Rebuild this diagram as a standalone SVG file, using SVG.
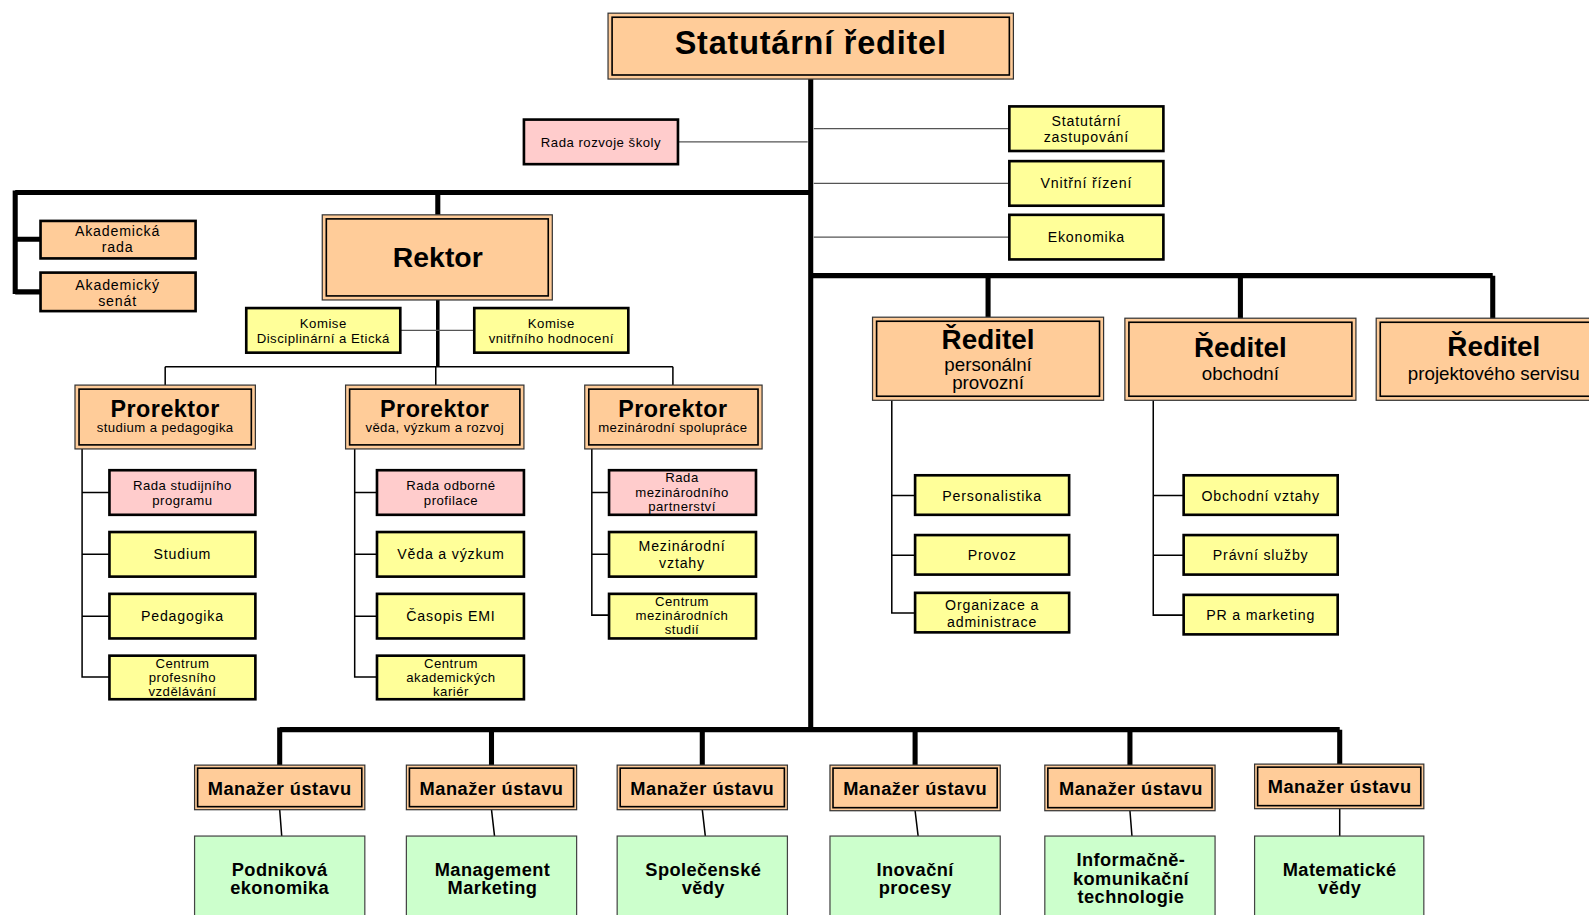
<svg xmlns="http://www.w3.org/2000/svg" width="1589" height="915" viewBox="0 0 1589 915">
<style>
text{font-family:"Liberation Sans",Arial,sans-serif;text-anchor:middle;fill:#000}
.o{fill:#FFCC99;stroke:#333;stroke-width:1.2}
.in{fill:none;stroke:#000;stroke-width:1.6}
.y{fill:#FFFF99;stroke:#000;stroke-width:2.6}
.p{fill:#FFCCCC;stroke:#000;stroke-width:2.6}
.a{fill:#FFCC99;stroke:#000;stroke-width:2.6}
.g{fill:#CCFFCC;stroke:#444;stroke-width:1.2}
.s{font-size:13px;letter-spacing:0.5px}
.m{font-size:14px;letter-spacing:0.8px}
.pr{font-size:23px;font-weight:bold;letter-spacing:0.5px}
.ps{font-size:13px;letter-spacing:0.4px}
.rd{font-size:27.5px;font-weight:bold}
.rs{font-size:18.5px}
.mg{font-size:18px;font-weight:bold;letter-spacing:0.5px}
.gt{font-size:18px;font-weight:bold;letter-spacing:0.4px}
.T{stroke:#000;stroke-width:5;fill:none}
.t{stroke:#000;stroke-width:1.5;fill:none}
.tg{stroke:#555;stroke-width:1.3;fill:none}
</style>
<rect width="1589" height="915" fill="#fff"/>
<g transform="scale(1.0134)">
<g id="connectors">
<path class="T" d="M800 76V722"/>
<path class="T" d="M15 190H800M15 188V290M15 236H40M15 288H40"/>
<path class="T" d="M432 190V212"/>
<path class="T" d="M800 272H1473M975 272V313M1224 272V315M1473 272V315"/>
<path class="T" d="M276 720H1322M276 718V755M485 720V755M693 720V755M903 720V755M1115 720V755M1322 720V754"/>
<path class="tg" d="M669 140H797M803 127H996M803 181H996M803 234H996"/>
<path stroke="#000" stroke-width="3.5" fill="none" d="M432 296V362"/>
<path class="tg" d="M395 326H468"/>
<path class="t" stroke-width="2" d="M163 362H664M163 362V380M430 362V380M664 362V380"/>
<path class="t" d="M81 443V668H108M81 486H108M81 547H108M81 608H108"/>
<path class="t" d="M350 443V668H372M350 486H372M350 547H372M350 608H372"/>
<path class="t" d="M584 443V607H601M584 486H601M584 547H601"/>
<path class="t" d="M880 395V605H903M880 489H903M880 548H903"/>
<path class="t" d="M1138 395V607H1168M1138 489H1168M1138 548H1168"/>
<path class="t" stroke-width="1.2" d="M276 799L278 825M485 799L488 825M693 799L696 825M903 800L906 825M1115 800L1117 825M1322 798V825"/>
</g>
<g id="statutarni-reditel"><rect class="o" x="600" y="13" width="400" height="65"/><rect class="in" x="604" y="17" width="392" height="57"/><text x="800" y="53" font-size="32" font-weight="bold" letter-spacing="0.8">Statutární ředitel</text></g>
<g id="rada-rozvoje"><rect class="p" x="517" y="118" width="152" height="44"/><text class="s" x="593" y="145">Rada rozvoje školy</text></g>
<g id="statutarni-zastupovani"><rect class="y" x="996" y="105" width="152" height="44"/><text class="m" x="1072" y="124">Statutární</text><text class="m" x="1072" y="140">zastupování</text></g>
<g id="vnitrni-rizeni"><rect class="y" x="996" y="159" width="152" height="44"/><text class="m" x="1072" y="186">Vnitřní řízení</text></g>
<g id="ekonomika"><rect class="y" x="996" y="212" width="152" height="44"/><text class="m" x="1072" y="239">Ekonomika</text></g>
<g id="akademicka-rada"><rect class="a" x="40" y="218" width="153" height="37"/><text class="m" x="116" y="233">Akademická</text><text class="m" x="116" y="249">rada</text></g>
<g id="akademicky-senat"><rect class="a" x="40" y="269" width="153" height="38"/><text class="m" x="116" y="286">Akademický</text><text class="m" x="116" y="302">senát</text></g>
<g id="rektor"><rect class="o" x="318" y="212" width="227" height="84"/><rect class="in" x="322" y="216" width="219" height="76"/><text x="432" y="263" font-size="28" font-weight="bold">Rektor</text></g>
<g id="komise-de"><rect class="y" x="243" y="304" width="152" height="44"/><text class="s" x="319" y="324">Komise</text><text class="s" x="319" y="338">Disciplinární a Etická</text></g>
<g id="komise-vh"><rect class="y" x="468" y="304" width="152" height="44"/><text class="s" x="544" y="324">Komise</text><text class="s" x="544" y="338">vnitřního hodnocení</text></g>
<g id="prorektor-sp"><rect class="o" x="74" y="380" width="178" height="63"/><rect class="in" x="78" y="384" width="170" height="55"/><text class="pr" x="163" y="411">Prorektor</text><text class="ps" x="163" y="426">studium a pedagogika</text></g>
<g id="prorektor-vvr"><rect class="o" x="341" y="380" width="176" height="63"/><rect class="in" x="345" y="384" width="168" height="55"/><text class="pr" x="429" y="411">Prorektor</text><text class="ps" x="429" y="426">věda, výzkum a rozvoj</text></g>
<g id="prorektor-ms"><rect class="o" x="577" y="380" width="175" height="63"/><rect class="in" x="581" y="384" width="167" height="55"/><text class="pr" x="664" y="411">Prorektor</text><text class="ps" x="664" y="426">mezinárodní spolupráce</text></g>
<g id="rada-sp"><rect class="p" x="108" y="464" width="144" height="44"/><text class="s" x="180" y="484">Rada studijního</text><text class="s" x="180" y="498">programu</text></g>
<g id="studium"><rect class="y" x="108" y="525" width="144" height="44"/><text class="m" x="180" y="552">Studium</text></g>
<g id="pedagogika"><rect class="y" x="108" y="586" width="144" height="44"/><text class="m" x="180" y="613">Pedagogika</text></g>
<g id="centrum-pv"><rect class="y" x="108" y="647" width="144" height="43"/><text class="s" x="180" y="659">Centrum</text><text class="s" x="180" y="673">profesního</text><text class="s" x="180" y="687">vzdělávání</text></g>
<g id="rada-op"><rect class="p" x="372" y="464" width="145" height="44"/><text class="s" x="445" y="484">Rada odborné</text><text class="s" x="445" y="498">profilace</text></g>
<g id="veda"><rect class="y" x="372" y="525" width="145" height="44"/><text class="m" x="445" y="552">Věda a výzkum</text></g>
<g id="casopis"><rect class="y" x="372" y="586" width="145" height="44"/><text class="m" x="445" y="613">Časopis EMI</text></g>
<g id="centrum-ak"><rect class="y" x="372" y="647" width="145" height="43"/><text class="s" x="445" y="659">Centrum</text><text class="s" x="445" y="673">akademických</text><text class="s" x="445" y="687">kariér</text></g>
<g id="rada-mp"><rect class="p" x="601" y="464" width="145" height="44"/><text class="s" x="673" y="476">Rada</text><text class="s" x="673" y="490">mezinárodního</text><text class="s" x="673" y="504">partnerství</text></g>
<g id="mez-vztahy"><rect class="y" x="601" y="525" width="145" height="44"/><text class="m" x="673" y="544">Mezinárodní</text><text class="m" x="673" y="560">vztahy</text></g>
<g id="centrum-ms"><rect class="y" x="601" y="586" width="145" height="44"/><text class="s" x="673" y="598">Centrum</text><text class="s" x="673" y="612">mezinárodních</text><text class="s" x="673" y="626">studií</text></g>
<g id="reditel-pp"><rect class="o" x="861" y="313" width="228" height="82"/><rect class="in" x="865" y="317" width="220" height="74"/><text class="rd" x="975" y="344">Ředitel</text><text class="rs" x="975" y="366">personální</text><text class="rs" x="975" y="384">provozní</text></g>
<g id="reditel-ob"><rect class="o" x="1110" y="314" width="228" height="81"/><rect class="in" x="1114" y="318" width="220" height="73"/><text class="rd" x="1224" y="352">Ředitel</text><text class="rs" x="1224" y="375">obchodní</text></g>
<g id="reditel-ps"><rect class="o" x="1358" y="314" width="236" height="81"/><rect class="in" x="1362" y="318" width="236" height="73"/><text class="rd" x="1474" y="351">Ředitel</text><text class="rs" x="1474" y="375">projektového servisu</text></g>
<g id="personalistika"><rect class="y" x="903" y="469" width="152" height="39"/><text class="m" x="979" y="494">Personalistika</text></g>
<g id="provoz"><rect class="y" x="903" y="528" width="152" height="39"/><text class="m" x="979" y="553">Provoz</text></g>
<g id="organizace"><rect class="y" x="903" y="585" width="152" height="39"/><text class="m" x="979" y="602">Organizace a</text><text class="m" x="979" y="619">administrace</text></g>
<g id="obchodni-vztahy"><rect class="y" x="1168" y="469" width="152" height="39"/><text class="m" x="1244" y="494">Obchodní vztahy</text></g>
<g id="pravni-sluzby"><rect class="y" x="1168" y="528" width="152" height="39"/><text class="m" x="1244" y="553">Právní služby</text></g>
<g id="pr-marketing"><rect class="y" x="1168" y="587" width="152" height="39"/><text class="m" x="1244" y="612">PR a marketing</text></g>
<g id="manazer-1"><rect class="o" x="192" y="755" width="168" height="44"/><rect class="in" x="195" y="758" width="162" height="38"/><text class="mg" x="276" y="784">Manažer ústavu</text></g>
<g id="manazer-2"><rect class="o" x="401" y="755" width="168" height="44"/><rect class="in" x="404" y="758" width="162" height="38"/><text class="mg" x="485" y="784">Manažer ústavu</text></g>
<g id="manazer-3"><rect class="o" x="609" y="755" width="168" height="44"/><rect class="in" x="612" y="758" width="162" height="38"/><text class="mg" x="693" y="784">Manažer ústavu</text></g>
<g id="manazer-4"><rect class="o" x="819" y="755" width="168" height="45"/><rect class="in" x="822" y="758" width="162" height="39"/><text class="mg" x="903" y="784">Manažer ústavu</text></g>
<g id="manazer-5"><rect class="o" x="1031" y="755" width="168" height="45"/><rect class="in" x="1034" y="758" width="162" height="39"/><text class="mg" x="1116" y="784">Manažer ústavu</text></g>
<g id="manazer-6"><rect class="o" x="1238" y="754" width="167" height="44"/><rect class="in" x="1241" y="757" width="161" height="38"/><text class="mg" x="1322" y="783">Manažer ústavu</text></g>
<g id="ustav-1"><rect class="g" x="192" y="825" width="168" height="95"/><text class="gt" x="276" y="864">Podniková</text><text class="gt" x="276" y="882">ekonomika</text></g>
<g id="ustav-2"><rect class="g" x="401" y="825" width="168" height="95"/><text class="gt" x="486" y="864">Management</text><text class="gt" x="486" y="882">Marketing</text></g>
<g id="ustav-3"><rect class="g" x="609" y="825" width="168" height="95"/><text class="gt" x="694" y="864">Společenské</text><text class="gt" x="694" y="882">vědy</text></g>
<g id="ustav-4"><rect class="g" x="819" y="825" width="168" height="95"/><text class="gt" x="903" y="864">Inovační</text><text class="gt" x="903" y="882">procesy</text></g>
<g id="ustav-5"><rect class="g" x="1031" y="825" width="168" height="95"/><text class="gt" x="1116" y="855">Informačně-</text><text class="gt" x="1116" y="873">komunikační</text><text class="gt" x="1116" y="891">technologie</text></g>
<g id="ustav-6"><rect class="g" x="1238" y="825" width="167" height="95"/><text class="gt" x="1322" y="864">Matematické</text><text class="gt" x="1322" y="882">vědy</text></g>
</g>
</svg>
